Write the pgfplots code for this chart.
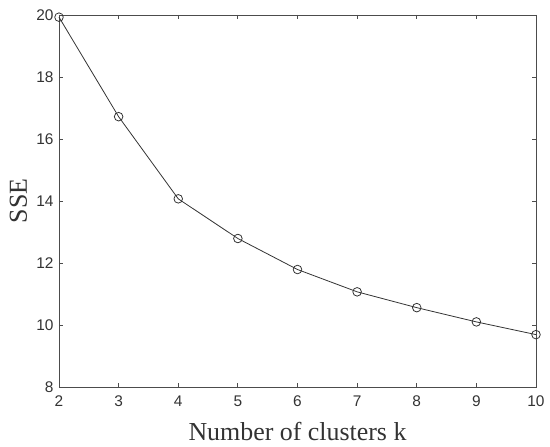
\documentclass[border=0pt]{standalone}
\usepackage{pgfplots}
\pgfplotsset{compat=1.18}
\usepackage{fontspec}
\setmainfont{Liberation Serif}
\newfontfamily\ticksfont{Liberation Sans}
\begin{document}
\begin{tikzpicture}
\begin{axis}[
  at={(0,0)}, anchor=south west,
  scale only axis,
  width=477bp, height=372bp,
  xmin=2, xmax=10, ymin=8, ymax=20,
  xtick={2,3,...,10}, ytick={8,10,...,20},
  xtick pos=both, ytick pos=both,
  tick align=inside,
  major tick length=4.5bp,
  axis line style={line width=0.8pt, black!70},
  tick style={draw=black!70, line width=0.8pt},
  tick label style={font=\fontsize{15.5}{17}\selectfont\ticksfont, text=black!80},
  xticklabel style={yshift=-5bp},
  yticklabel style={xshift=-2bp},
  /pgf/number format/assume math mode=true,
  xlabel={Number of clusters k},
  ylabel={SSE},
  label style={font=\fontsize{26}{28}\selectfont, text=black!80},
  xlabel style={at={(0.5,0)}, anchor=base, yshift=-53bp},
  ylabel style={at={(0,0.5)}, anchor=base, yshift=32bp},
  clip=false,
]
\addplot[black!80, line width=0.8pt, mark=o, mark size=4.3bp, mark options={line width=0.8pt}]
coordinates {
(2,19.93) (3,16.72) (4,14.07) (5,12.79) (6,11.79) (7,11.07) (8,10.56) (9,10.10) (10,9.69)
};
\end{axis}
\pgfresetboundingbox
\path (-59bp,-60bp) rectangle (491bp,387bp);
\end{tikzpicture}
\end{document}
